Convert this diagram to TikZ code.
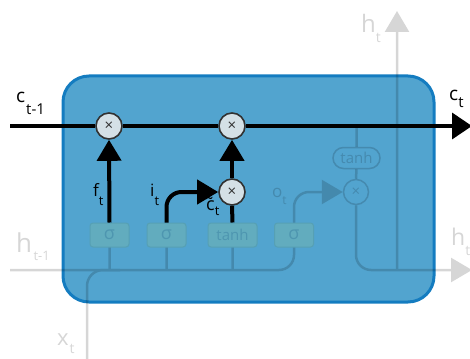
\documentclass[tikz,border=0pt]{standalone}
\usepackage{fontspec}
\setmainfont{Open Sans}
\usetikzlibrary{arrows.meta}

\definecolor{cellblue}{RGB}{82,164,207}
\definecolor{celledge}{RGB}{20,124,192}
\definecolor{opfill}{RGB}{212,224,230}
\definecolor{opedge}{RGB}{50,50,50}
\definecolor{gatefill}{RGB}{98,172,190}
\definecolor{gateedge}{RGB}{86,160,180}
\definecolor{gatetext}{RGB}{78,150,176}
\definecolor{fadeblue}{RGB}{69,138,175}

% symbol with a subscript: size, symbol, subscript size, subscript, kern, drop
\newcommand{\symsub}[6]{{\fontsize{#1}{#1}\selectfont #2}\kern#5\raisebox{-#6}{\fontsize{#3}{#3}\selectfont #4}}

\tikzset{
  mainwire/.style={line width=4pt, black},
  celltip/.style={-{Triangle[width=24pt,length=21pt]}},
  op/.style={circle, draw=opedge, line width=1.6pt, fill=opfill,
    minimum size=26pt, inner sep=0pt, text=opedge,
    font=\fontsize{15}{15}\selectfont},
  fadeop/.style={circle, draw=fadeblue, line width=1.5pt, fill=cellblue,
    minimum size=25pt, inner sep=0pt, text=fadeblue,
    font=\fontsize{15}{15}\selectfont},
  gatebox/.style={draw=gateedge, fill=gatefill, rounded corners=3pt,
    minimum height=24pt, minimum width=39pt, inner sep=0pt,
    text=gatetext, font=\fontsize{15}{15}\selectfont, line width=1pt},
  pill/.style={draw=fadeblue, fill=cellblue, rounded corners=10.5pt,
    minimum height=21pt, minimum width=47pt, inner sep=0pt,
    text=fadeblue, font=\fontsize{15}{15}\selectfont, line width=1.5pt},
  faintwire/.style={line width=2.5pt, black},
  lbl/.style={anchor=base west, inner sep=0pt},
}

\begin{document}
\begin{tikzpicture}[x=1pt,y=-1pt]
\useasboundingbox (0,0) rectangle (470,358);

% the cell body
\draw[celledge, fill=cellblue, line width=3pt, rounded corners=26pt]
  (63,76) rectangle (434,302);

% gates
\node[gatebox, font=\fontsize{18}{18}\selectfont] (fg) at (109.5,235) {σ};
\node[gatebox, font=\fontsize{18}{18}\selectfont] (ig) at (166.5,235) {σ};
\node[gatebox, minimum width=49pt] (cg) at (232.5,235) {tanh};
\node[gatebox, font=\fontsize{18}{18}\selectfont] (og) at (294,235) {σ};

% pointwise operations
\node[op] (mf) at (109,126) {×};
\node[op] (mc) at (232,126) {×};
\node[op] (mi) at (232,192) {×};
\node[fadeop] (mo) at (356,192) {×};
\node[pill] (tp) at (356.5,158) {tanh};

% free ends
\coordinate (cin) at (10,126);
\coordinate (cout) at (472,126);
\coordinate (hin) at (10,270);
\coordinate (xin) at (87,360);
\coordinate (hout) at (472,270);
\coordinate (htop) at (397,11);
\coordinate (tj) at (356.5,126);
\coordinate (hj) at (397,270);

% faded part of the cell: input and output paths
\begin{scope}[transparency group, opacity=0.16]
  \draw[faintwire, rounded corners=15pt] (hin) -- (og.south |- hin) -- (og.south);
  \draw[faintwire, rounded corners=16pt] (xin) -- (87,270) -- (120,270);
  \draw[faintwire] (fg.south) -- (fg.south |- hin);
  \draw[faintwire] (ig.south) -- (ig.south |- hin);
  \draw[faintwire] (cg.south) -- (cg.south |- hin);
  \draw[faintwire, rounded corners=15pt, celltip] (og.north) |- (mo.west);
  \draw[faintwire] (tj) -- (tp.north);
  \draw[faintwire] (tp.south) -- (mo.north);
  \draw[faintwire, rounded corners=15pt, celltip] (mo.south) |- (hout);
  \draw[faintwire, celltip] (hj) -- (htop);
  \node[lbl] (lh) at (16,252) {\symsub{26}{h}{13}{t-1}{1.5pt}{8pt}};
  \node[lbl] (lx) at (57,345) {\symsub{22}{x}{14}{t}{1pt}{8pt}};
  \node[lbl] (lht) at (361,33) {\symsub{24}{h}{14}{t}{0pt}{10pt}};
  \node[lbl] (lhr) at (451,245) {\symsub{23}{h}{14}{t}{0pt}{10pt}};
  \node[lbl] (lo) at (272,197) {\symsub{17}{o}{12}{t}{0pt}{7pt}};
\end{scope}

% cell state line
\draw[line width=3.5pt] (cin) -- (mf);
\draw[line width=3.5pt] (mf) -- (mc);
\draw[line width=3.5pt, -{Triangle[width=26pt,length=20pt]}] (mc) -- (cout);

% forget and input gate paths
\draw[mainwire, celltip] (fg.north) -- (mf.south);
\draw[mainwire, celltip, rounded corners=15pt] (ig.north) |- (mi.west);
\draw[mainwire] (cg.north) -- (mi.south);
\draw[mainwire, celltip] (mi.north) -- (mc.south);

% labels
\node[lbl] (lc0) at (16,103) {\symsub{19}{c}{15}{t-1}{1pt}{12pt}};
\node[lbl] (lc1) at (449,101) {\symsub{19}{c}{15}{t}{0pt}{7pt}};
\node[lbl] (lf) at (93,196) {\symsub{17}{f}{13}{t}{0pt}{9pt}};
\node[lbl] (li) at (150,196) {\symsub{17}{i}{13}{t}{0pt}{9pt}};
\node[lbl] (lct) at (206,210) {\symsub{18}{\~{c}}{13}{t}{0pt}{5pt}};
\end{tikzpicture}
\end{document}
